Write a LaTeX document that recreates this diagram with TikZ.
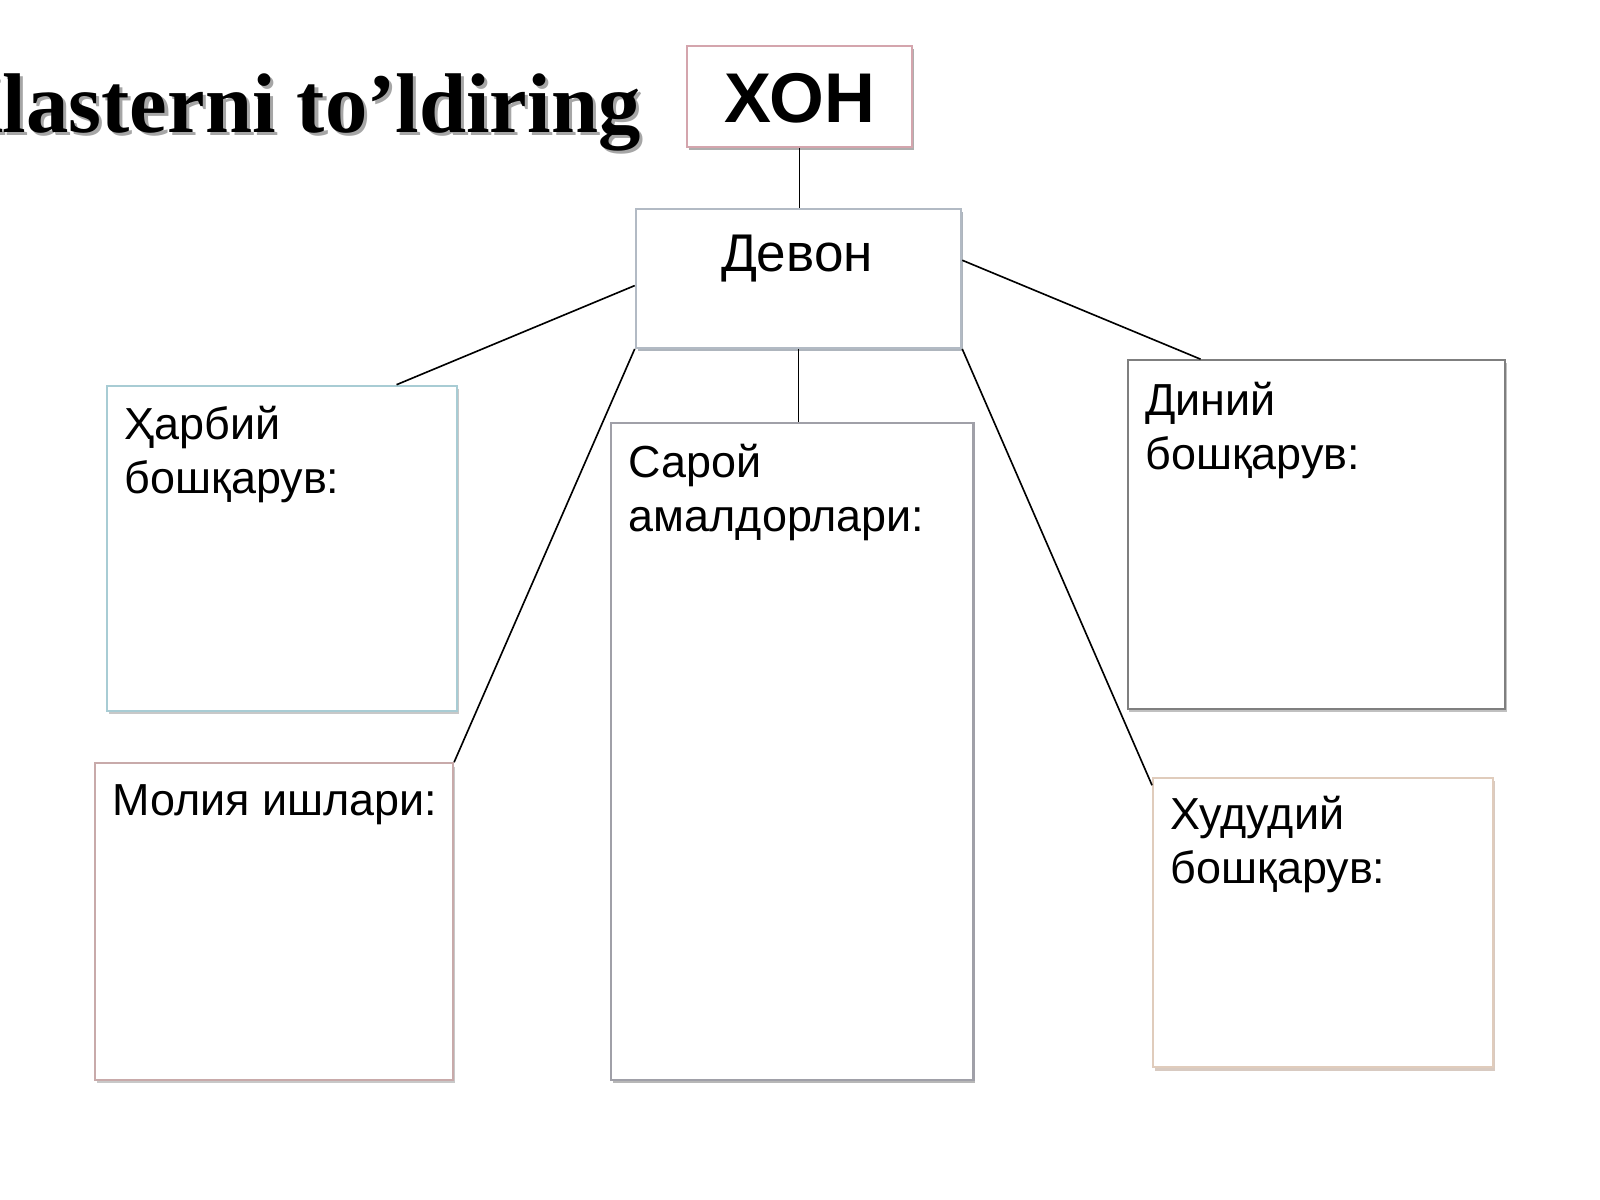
\documentclass[tikz,border=0pt]{standalone}
\usepackage{fontspec}
\setmainfont{Liberation Sans}
\newfontfamily\titlefont{Liberation Serif}
\usetikzlibrary{fit,calc,shadows}
\definecolor{xonborder}{RGB}{212,165,173}
\definecolor{devonborder}{RGB}{178,186,196}
\definecolor{devonshadow}{RGB}{140,150,162}
\definecolor{harbiyborder}{RGB}{168,204,212}
\definecolor{moliyaborder}{RGB}{200,170,170}
\definecolor{saroyborder}{RGB}{160,160,168}
\definecolor{diniyborder}{RGB}{127,127,127}
\definecolor{hududiyborder}{RGB}{224,204,188}
\definecolor{hududiyshadow}{RGB}{200,180,168}
\begin{document}
\begin{tikzpicture}[x=0.5pt,y=-0.5pt,
  boxbase/.style={rectangle, draw, line width=1pt, fill=white, inner sep=0pt},
  shadowed/.style={drop shadow={shadow xshift=0.9pt, shadow yshift=-1.6pt, fill=#1, opacity=0.7}},
  conn/.style={draw=black, line width=0.8pt},
  labeltext/.style={anchor=north west, inner sep=0pt, align=left, font=\fontsize{22pt}{26.5pt}\selectfont},
]
\clip (0,0) rectangle (1568,1176);
\fill[white] (0,0) rectangle (1568,1176);

% title
\node[anchor=base east, inner sep=0pt, text=black!35, font=\titlefont\bfseries\fontsize{41.5pt}{50pt}\selectfont] (titleshadow) at (631,133) {Klasterni to’ldiring};
\node[anchor=base east, inner sep=0pt, font=\titlefont\bfseries\fontsize{41.5pt}{50pt}\selectfont] (title) at (628,130) {Klasterni to’ldiring};

% boxes
\node[boxbase, draw=xonborder, shadowed=black!45, fit={(673,45) (894,144)}] (xon) {};
\node[boxbase, draw=devonborder, shadowed=devonshadow, fit={(623,205) (942,341)}] (devon) {};
\node[boxbase, draw=harbiyborder, shadowed=black!30, fit={(105,378) (448,697)}] (harbiy) {};
\node[boxbase, draw=moliyaborder, shadowed=black!30, fit={(93,748) (444,1058)}] (moliya) {};
\node[boxbase, draw=saroyborder, shadowed=black!40, fit={(599,415) (954,1058)}] (saroy) {};
\node[boxbase, draw=diniyborder, shadowed=black!35, fit={(1105,353) (1475,695)}] (diniy) {};
\node[boxbase, draw=hududiyborder, shadowed=hududiyshadow, fit={(1130,762) (1463,1046)}] (hududiy) {};

% box texts
\node[anchor=base, inner sep=0pt, font=\bfseries\fontsize{34.5pt}{40pt}\selectfont] (xontext) at (783.5,120) {ХОН};
\node[anchor=base, inner sep=0pt, font=\fontsize{26pt}{31pt}\selectfont] (devontext) at (781,266) {Девон};
\node[labeltext] (harbiytext) at (122,398) {Ҳарбий\\бошқарув:};
\node[labeltext] (moliyatext) at (110,769) {Молия ишлари:};
\node[labeltext] (saroytext) at (616,435) {Сарой\\амалдорлари:};
\node[labeltext] (diniytext) at (1122,374) {Диний\\бошқарув:};
\node[labeltext] (hududiytext) at (1147,780) {Худудий\\бошқарув:};

% connectors
\draw[conn] (xon.south) -- (xon.south |- devon.north);
\draw[conn] ($(devon.north west)!0.55!(devon.south west)$) -- ($(harbiy.north west)!0.825!(harbiy.north east)$);
\draw[conn] (devon.south west) -- (moliya.north east);
\draw[conn] (devon.south) -- (devon.south |- saroy.north);
\draw[conn] ($(devon.north east)!0.37!(devon.south east)$) -- ($(diniy.north west)!0.195!(diniy.north east)$);
\draw[conn] (devon.south east) -- ($(hududiy.north west)!0.03!(hududiy.south west)$);
\end{tikzpicture}
\end{document}
